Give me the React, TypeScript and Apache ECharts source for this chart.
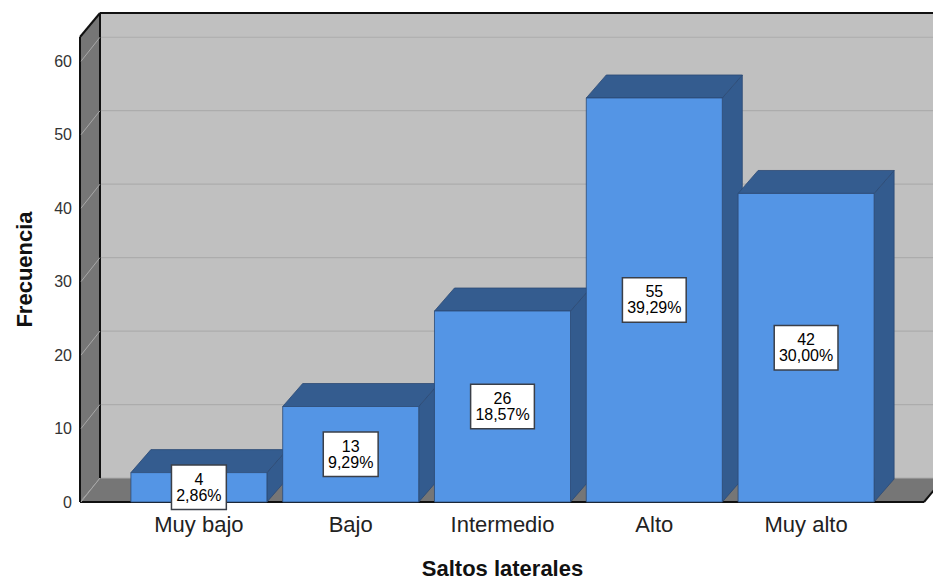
import React, { useEffect, useRef } from "react";
import * as echarts from "echarts";

const categories = ["Muy bajo", "Bajo", "Intermedio", "Alto", "Muy alto"];
const counts = [4, 13, 26, 55, 42];
const percents = ["2,86%", "9,29%", "18,57%", "39,29%", "30,00%"];
const yTicks = [0, 10, 20, 30, 40, 50, 60];
const yMax = 63.3;

const FONT = '"Liberation Sans", Arial, Helvetica, sans-serif';
const DX = 20;
const DY = 24;
const BDX = 20;
const BDY = 23;
const LEFT_EXT = 43;
const RIGHT_EXT = 42;

export default function App() {
  const ref = useRef<HTMLDivElement>(null);

  useEffect(() => {
    const chart = echarts.init(ref.current as HTMLDivElement, null, { renderer: "svg" });

    const wallsSeries = {
      type: "custom",
      z: 1,
      silent: true,
      clip: false,
      data: [[0, 0]],
      renderItem: (params: any, api: any) => {
        const cs = params.coordSys;
        const L = cs.x - LEFT_EXT;
        const R = cs.x + cs.width + RIGHT_EXT;
        const y0 = api.coord([0, 0])[1];
        const yT = api.coord([0, yMax])[1];
        const line = (x1: number, y1: number, x2: number, y2: number, stroke: string, w: number) => ({
          type: "line",
          shape: { x1, y1, x2, y2 },
          style: { stroke, lineWidth: w },
        });
        return {
          type: "group",
          children: [
            {
              type: "rect",
              shape: { x: L + DX, y: yT - DY, width: R - L, height: y0 - yT },
              style: { fill: "#c0c0c0" },
            },
            {
              type: "polygon",
              shape: { points: [[L, yT], [L + DX, yT - DY], [L + DX, y0 - DY], [L, y0]] },
              style: { fill: "#767676" },
            },
            {
              type: "polygon",
              shape: { points: [[L, y0], [L + DX, y0 - DY], [R + DX, y0 - DY], [R, y0]] },
              style: { fill: "#767676" },
            },
            line(L + DX, yT - DY, R + DX + 20, yT - DY, "#111", 2),
            line(L + DX, yT - DY, L + DX, y0 - DY, "#111", 2),
            line(L, y0, L, yT, "#111", 2),
            line(L, yT, L + DX, yT - DY, "#111", 2),
            line(L, y0, R, y0, "#111", 2),
            line(R, y0, R + DX, y0 - DY, "#111", 2),
          ],
        };
      },
    };

    const gridSeries = {
      type: "custom",
      z: 2,
      silent: true,
      clip: false,
      data: yTicks.map((v) => [0, v]),
      renderItem: (params: any, api: any) => {
        const cs = params.coordSys;
        const L = cs.x - LEFT_EXT;
        const R = cs.x + cs.width + RIGHT_EXT;
        const y = api.coord([0, api.value(1)])[1];
        return {
          type: "group",
          children: [
            {
              type: "line",
              shape: { x1: L + 1, y1: y, x2: L + DX, y2: y - DY },
              style: { stroke: "#a8a8a8", lineWidth: 1 },
            },
            {
              type: "line",
              shape: { x1: L + DX + 1, y1: y - DY, x2: R + DX + 20, y2: y - DY },
              style: { stroke: "#acacac", lineWidth: 1.2 },
            },
          ],
        };
      },
    };

    const barSeries = {
      type: "custom",
      z: 3,
      clip: false,
      data: counts.map((v, i) => [i, v]),
      renderItem: (params: any, api: any) => {
        const i = api.value(0);
        const v = api.value(1);
        const top = api.coord([i, v]);
        const base = api.coord([i, 0]);
        const band = api.size([1, 0])[0];
        const w = band * 0.896;
        const cx = top[0];
        const yv = top[1];
        const y0 = base[1];
        const x1 = cx - w / 2;
        const x2 = cx + w / 2;
        const edge = { stroke: "#2c4a75", lineWidth: 0.8 };
        return {
          type: "group",
          children: [
            {
              type: "polygon",
              shape: { points: [[x2, yv], [x2 + BDX, yv - BDY], [x2 + BDX, y0 - BDY], [x2, y0]] },
              style: { fill: "#335b8e", ...edge },
            },
            {
              type: "polygon",
              shape: { points: [[x1, yv], [x1 + BDX, yv - BDY], [x2 + BDX, yv - BDY], [x2, yv]] },
              style: { fill: "#345c8f", ...edge },
            },
            {
              type: "rect",
              shape: { x: x1, y: yv, width: w, height: y0 - yv },
              style: { fill: "#5495e5", ...edge },
            },
            {
              type: "text",
              x: cx,
              y: (yv + y0) / 2,
              style: {
                text: counts[i] + "\n" + percents[i],
                fill: "#000",
                font: "16px " + FONT,
                align: "center",
                verticalAlign: "middle",
                lineHeight: 16,
                backgroundColor: "#ffffff",
                borderColor: "#3a3f48",
                borderWidth: 1.5,
                padding: [6, 4, 5, 4],
              },
            },
          ],
        };
      },
    };

    const option = {
      animation: false,
      backgroundColor: "#ffffff",
      grid: { left: 123, right: 51, top: 37, bottom: 79, outerBoundsMode: "none", containLabel: false },
      xAxis: {
        type: "category",
        data: categories,
        axisLine: { show: false },
        axisTick: { show: false },
        splitLine: { show: false },
        axisLabel: { margin: 11, fontSize: 22, color: "#222", fontFamily: FONT },
        name: "Saltos laterales",
        nameLocation: "middle",
        nameGap: 55,
        nameTextStyle: { fontSize: 22, fontWeight: "bold", color: "#111", fontFamily: FONT },
      },
      yAxis: {
        type: "value",
        min: 0,
        max: yMax,
        interval: 10,
        axisLine: { show: false },
        axisTick: { show: false },
        splitLine: { show: false },
        axisLabel: {
          margin: 51,
          fontSize: 16,
          color: "#333",
          fontFamily: FONT,
          showMaxLabel: false,
          formatter: (v: number) => (yTicks.indexOf(v) >= 0 ? String(v) : ""),
        },
        name: "Frecuencia",
        nameLocation: "middle",
        nameGap: 88,
        nameRotate: 90,
        nameTextStyle: { fontSize: 22, fontWeight: "bold", color: "#111", fontFamily: FONT },
      },
      series: [wallsSeries, gridSeries, barSeries],
    };

    chart.setOption(option as any);
    return () => chart.dispose();
  }, []);

  return <div ref={ref} style={{ width: 933, height: 581, position: "absolute", left: 0, top: 0 }} />;
}
